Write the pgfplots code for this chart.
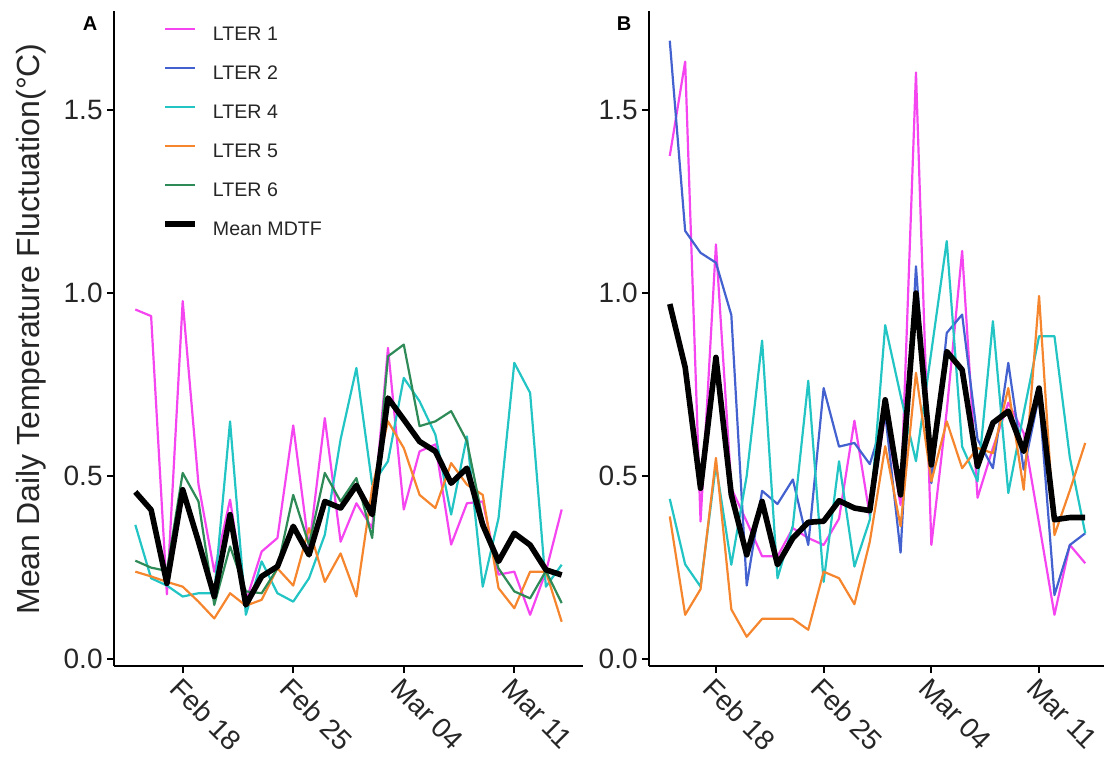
\documentclass[border=0pt]{standalone}
\usepackage{fontspec}
\setmainfont{Liberation Sans}
\usepackage{pgfplots}
\pgfplotsset{compat=1.18}
\usepackage{pgfplotstable}

\definecolor{lter1}{HTML}{F545F0}
\definecolor{lter2}{HTML}{4361CF}
\definecolor{lter4}{HTML}{22C4C4}
\definecolor{lter5}{HTML}{F5862E}
\definecolor{lter6}{HTML}{2E8B57}

% day 0 = Feb 18
\pgfplotstableread{
d   l1    l4    l5    l6    mean
-3  0.955 0.366 0.238 0.268 0.456
-2  0.937 0.220 0.225 0.249 0.407
-1  0.176 0.200 0.210 0.240 0.206
0   0.978 0.170 0.197 0.508 0.462
1   0.477 0.179 0.156 0.430 0.320
2   0.238 0.179 0.110 0.147 0.170
3   0.435 0.649 0.179 0.307 0.394
4   0.156 0.120 0.145 0.184 0.147
5   0.293 0.266 0.161 0.179 0.225
6   0.330 0.179 0.247 0.247 0.252
7   0.638 0.156 0.200 0.448 0.362
8   0.302 0.220 0.357 0.311 0.284
9   0.658 0.339 0.210 0.508 0.430
10  0.320 0.600 0.288 0.430 0.412
11  0.425 0.795 0.170 0.494 0.474
12  0.357 0.476 0.467 0.330 0.394
13  0.850 0.540 0.649 0.827 0.713
14  0.408 0.768 0.576 0.859 0.654
15  0.567 0.704 0.448 0.636 0.594
16  0.586 0.613 0.412 0.649 0.567
17  0.312 0.394 0.535 0.677 0.480
18  0.425 0.608 0.476 0.595 0.521
19  0.430 0.197 0.448 0.380 0.366
20  0.230 0.384 0.193 0.247 0.266
21  0.238 0.809 0.138 0.184 0.343
22  0.120 0.727 0.238 0.165 0.311
23  0.238 0.197 0.238 0.240 0.243
24  0.408 0.257 0.101 0.152 0.229
}\tabA

\pgfplotstableread{
d   l1    l2    l4    l5    mean
-3  1.375 1.690 0.437 0.389 0.970
-2  1.633 1.170 0.258 0.120 0.797
-1  0.375 1.110 0.197 0.190 0.466
0   1.133 1.083 0.530 0.549 0.824
1   0.466 0.940 0.257 0.135 0.448
2   0.375 0.200 0.500 0.060 0.284
3   0.280 0.459 0.870 0.109 0.430
4   0.280 0.423 0.220 0.109 0.257
5   0.357 0.490 0.364 0.109 0.330
6   0.330 0.311 0.760 0.079 0.373
7   0.311 0.740 0.210 0.238 0.376
8   0.383 0.580 0.540 0.220 0.432
9   0.651 0.590 0.252 0.149 0.412
10  0.390 0.532 0.380 0.320 0.405
11  0.670 0.670 0.912 0.581 0.708
12  0.420 0.290 0.720 0.362 0.448
13  1.603 1.073 0.540 0.782 1.000
14  0.311 0.480 0.840 0.485 0.530
15  0.678 0.891 1.142 0.649 0.840
16  1.115 0.941 0.580 0.521 0.790
17  0.440 0.600 0.485 0.576 0.526
18  0.576 0.521 0.923 0.562 0.645
19  0.700 0.809 0.453 0.740 0.677
20  0.617 0.517 0.672 0.462 0.567
21  0.370 0.720 0.882 0.992 0.740
22  0.120 0.174 0.882 0.338 0.380
23  0.311 0.311 0.550 0.460 0.386
24  0.261 0.343 0.343 0.590 0.386
}\tabB

\pgfplotsset{
  panel/.style={
    scale only axis, height=327.25bp,
    xmin=-4.35, xmax=25.35, ymin=-0.02, ymax=1.77,
    axis lines*=left, tick pos=left, clip=false,
    axis line style={line width=1bp, -},
    tick align=outside, major tick length=3.5bp,
    every tick/.style={line width=1bp, black},
    xtick={0,7,14,21}, xticklabels={Feb 18,Feb 25,Mar 04,Mar 11},
    ytick={0,0.5,1,1.5},
    /pgf/number format/fixed, /pgf/number format/fixed zerofill,
    /pgf/number format/precision=1, /pgf/number format/assume math mode=true,
    tick label style={font=\fontsize{14bp}{16bp}\selectfont, text=black!85},
    xticklabel style={rotate=-45, anchor=north west, inner sep=1bp},
    yticklabel style={inner sep=2bp},
    no markers,
    every axis plot/.append style={line width=1.1bp, line join=round},
  },
  meanline/.style={black, line width=2.8bp, line join=round},
}

\begin{document}
\begin{tikzpicture}
\begin{axis}[panel, width=234.5bp, at={(0,0)}, anchor=south west,
  ylabel={Mean Daily Temperature Fluctuation(°C)},
  every axis y label/.style={at={([xshift=-41.5bp]rel axis cs:0,0.515)}, rotate=90, anchor=center,
    font=\fontsize{16bp}{18bp}\selectfont, text=black!85},
  legend style={draw=none, fill=none, at={([xshift=-1.5bp,yshift=-1bp]rel axis cs:0.1087,0.981)}, anchor=north west,
    inner sep=0pt, row sep=10.5bp, font=\fontsize{9.8bp}{11bp}\selectfont,
    nodes={inner sep=0pt, text height=7bp, text depth=2bp, text=black!85},
    /tikz/every odd column/.append style={column sep=7.5bp}},
  legend cell align=left,
  legend image code/.code={\draw[#1] (0bp,3.2bp) -- (15bp,3.2bp);},
]
\addplot[lter1] table[x=d, y=l1] {\tabA};
\addlegendentry{LTER 1}
\addlegendimage{lter2, line width=1.1bp}
\addlegendentry{LTER 2}
\addplot[lter4] table[x=d, y=l4] {\tabA};
\addlegendentry{LTER 4}
\addplot[lter5] table[x=d, y=l5] {\tabA};
\addlegendentry{LTER 5}
\addplot[lter6] table[x=d, y=l6] {\tabA};
\addlegendentry{LTER 6}
\addplot[meanline] table[x=d, y=mean] {\tabA};
\addlegendentry{Mean MDTF}
\node[font=\bfseries\fontsize{10bp}{12bp}\selectfont] at ([xshift=-12bp,yshift=-6bp]rel axis cs:0,1) {A};
\end{axis}

\begin{axis}[panel, width=228.5bp, at={(267.5bp,0)}, anchor=south west]
\addplot[lter1] table[x=d, y=l1] {\tabB};
\addplot[lter2] table[x=d, y=l2] {\tabB};
\addplot[lter4] table[x=d, y=l4] {\tabB};
\addplot[lter5] table[x=d, y=l5] {\tabB};
\addplot[meanline] table[x=d, y=mean] {\tabB};
\node[font=\bfseries\fontsize{10bp}{12bp}\selectfont] at ([xshift=-12.5bp,yshift=-6bp]rel axis cs:0,1) {B};
\end{axis}

\pgfresetboundingbox
\path[use as bounding box] (-57bp,-50bp) rectangle (495bp,333bp);
\end{tikzpicture}
\end{document}
